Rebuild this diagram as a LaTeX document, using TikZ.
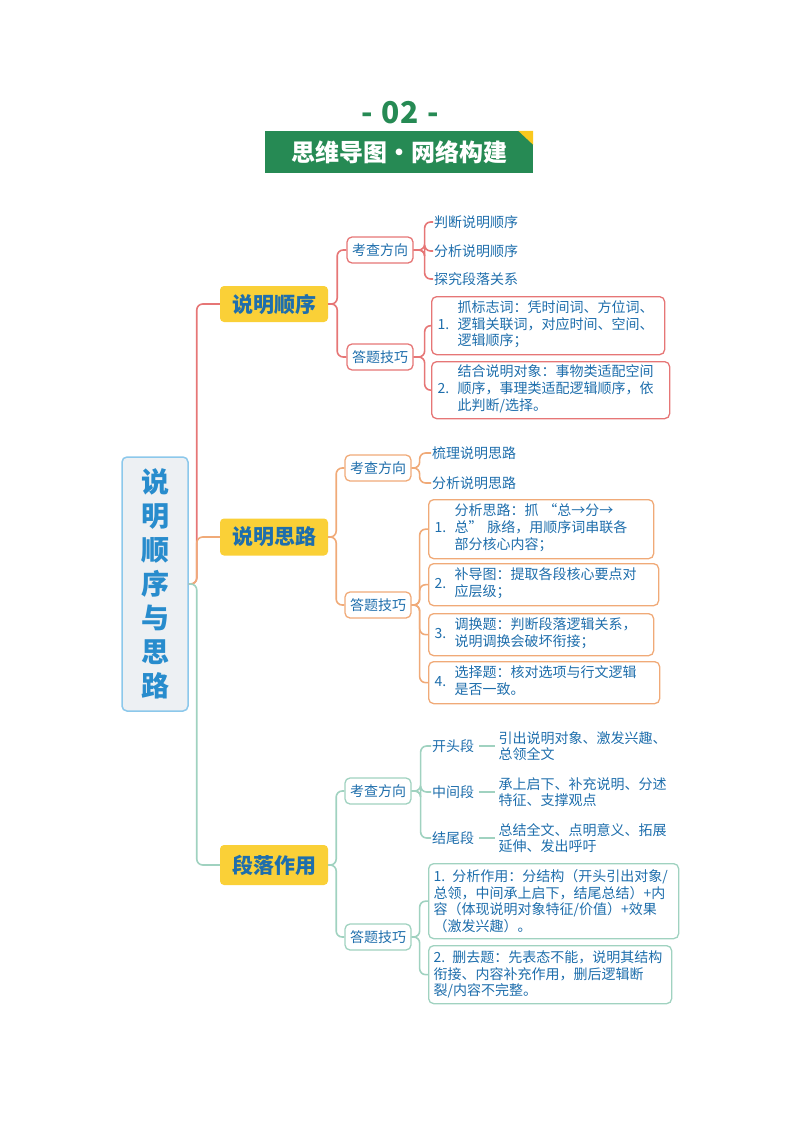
\documentclass[tikz,border=0pt]{standalone}
\usepackage{fontspec}
\setmainfont{Noto Sans CJK SC}
\usepackage{tikz}
\usetikzlibrary{positioning}
\definecolor{inkblue}{RGB}{30,110,172}
\definecolor{rootblue}{RGB}{40,140,205}
\definecolor{redline}{RGB}{230,118,118}
\definecolor{orangeline}{RGB}{240,170,120}
\definecolor{greenline}{RGB}{160,210,192}
\definecolor{titlegreen}{RGB}{38,138,84}
\definecolor{mainyellow}{RGB}{250,208,55}
\definecolor{rootfill}{RGB}{237,240,243}
\definecolor{rootedge}{RGB}{140,200,235}
\definecolor{cornergold}{RGB}{250,200,30}

\newcommand{\numline}[2]{\makebox[20pt][l]{#1}\begin{tabular}[c]{@{}l@{}}#2\end{tabular}}

\begin{document}
\begin{tikzpicture}[
  x=1pt, y=-1pt,
  font=\fontsize{14}{16.5}\selectfont,
  root/.style={draw=rootedge, fill=rootfill, line width=1.5pt, rounded corners=5pt, minimum width=66pt, minimum height=254pt, align=center, text=rootblue, font=\fontsize{28}{34}\selectfont\bfseries},
  topic/.style={fill=mainyellow, rounded corners=4pt, minimum width=108pt, minimum height=36pt, inner sep=0pt, text=inkblue, font=\fontsize{21}{24}\selectfont\bfseries},
  ask/.style={draw=#1, fill=white, line width=1.3pt, rounded corners=5pt, minimum width=66pt, minimum height=26pt, inner sep=0pt, text=inkblue},
  leaf/.style={anchor=west, inner sep=1pt, text=inkblue, align=left},
  card/.style={draw=#1, fill=white, line width=1.3pt, rounded corners=5pt, anchor=north west, inner xsep=6pt, inner ysep=0pt, align=left, text=inkblue},
  branch/.style={draw=#1, line width=1.6pt, rounded corners=6pt}
]
\useasboundingbox (0,0) rectangle (800,1132);

% heading
\node[text=titlegreen, font=\fontsize{30}{32}\selectfont\bfseries] (num) at (400,113) {-\hspace{9pt}02\hspace{9pt}-};
\node[fill=titlegreen, minimum width=268pt, minimum height=42pt, inner sep=0pt, text=white, font=\fontsize{24}{26}\selectfont\bfseries] (title) at (399,152) {思维导图・网络构建};
\fill[cornergold] (title.north east) -- ++(-15,0) -- ++(15,14) -- cycle;

% root and topics
\node[root] (root) at (155,584) {说\\明\\顺\\序\\与\\思\\路};
\node[topic] (seq) at (274,304) {说明顺序};
\node[topic, minimum height=37pt] (flow) at (274,537) {说明思路};
\node[topic, minimum height=40pt] (para) at (274,865) {段落作用};

\draw[branch=redline] (root.east) -- ++(8,0) |- (seq.west);
\draw[branch=orangeline] (root.east) -- ++(8,0) |- (flow.west);
\draw[branch=greenline] (root.east) -- ++(8,0) |- (para.west);

% 说明顺序
\node[ask=redline] (seqq) at (380,250) {考查方向};
\node[ask=redline] (seqs) at (380,357) {答题技巧};
\node[leaf] (seqq1) at (433,222) {判断说明顺序};
\node[leaf] (seqq2) at (433,251) {分析说明顺序};
\node[leaf] (seqq3) at (433,279) {探究段落关系};
\node[card=redline, text width=221pt, minimum height=58pt] (seqs1) at (431,296) {\numline{1.}{抓标志词：凭时间词、方位词、\\逻辑关联词，对应时间、空间、\\逻辑顺序；}};
\node[card=redline, text width=226pt, minimum height=57pt] (seqs2) at (431,361) {\numline{2.}{结合说明对象：事物类适配空间\\顺序，事理类适配逻辑顺序，依\\此判断/选择。}};

\draw[branch=redline] (seq.east) -- ++(9,0) |- (seqq.west);
\draw[branch=redline] (seq.east) -- ++(9,0) |- (seqs.west);
\draw[branch=redline] (seqq.east) -- ++(11,0) |- (seqq1.west);
\draw[branch=redline] (seqq.east) -- ++(11,0) |- (seqq2.west);
\draw[branch=redline] (seqq.east) -- ++(11,0) |- (seqq3.west);
\draw[branch=redline] (seqs.east) -- ++(11,0) |- (seqs1.west);
\draw[branch=redline] (seqs.east) -- ++(11,0) |- (seqs2.west);

% 说明思路
\node[ask=orangeline] (flowq) at (378,468) {考查方向};
\node[ask=orangeline] (flows) at (378,605) {答题技巧};
\node[leaf] (flowq1) at (431,453) {梳理说明思路};
\node[leaf] (flowq2) at (431,483) {分析说明思路};
\node[card=orangeline, text width=213pt, minimum height=59pt] (flows1) at (428,499) {\numline{1.}{分析思路：抓 “总→分→\\总” 脉络，用顺序词串联各\\部分核心内容；}};
\node[card=orangeline, text width=218pt, minimum height=42pt] (flows2) at (428,563) {\numline{2.}{补导图：提取各段核心要点对\\应层级；}};
\node[card=orangeline, text width=213pt, minimum height=42pt] (flows3) at (428,613) {\numline{3.}{调换题：判断段落逻辑关系，\\说明调换会破坏衔接；}};
\node[card=orangeline, text width=219pt, minimum height=42pt] (flows4) at (428,661) {\numline{4.}{选择题：核对选项与行文逻辑\\是否一致。}};

\draw[branch=orangeline] (flow.east) -- ++(8,0) |- (flowq.west);
\draw[branch=orangeline] (flow.east) -- ++(8,0) |- (flows.west);
\draw[branch=orangeline] (flowq.east) -- ++(8,0) |- (flowq1.west);
\draw[branch=orangeline] (flowq.east) -- ++(8,0) |- (flowq2.west);
\draw[branch=orangeline] (flows.east) -- ++(8,0) |- (flows1.west);
\draw[branch=orangeline] (flows.east) -- ++(8,0) |- (flows2.west);
\draw[branch=orangeline] (flows.east) -- ++(8,0) |- (flows3.west);
\draw[branch=orangeline] (flows.east) -- ++(8,0) |- (flows4.west);

% 段落作用
\node[ask=greenline] (paraq) at (378,791) {考查方向};
\node[ask=greenline] (paras) at (378,937) {答题技巧};
\node[leaf] (paraq1) at (431,746) {开头段};
\node[leaf] (paraq2) at (431,792) {中间段};
\node[leaf] (paraq3) at (431,838) {结尾段};
\node[leaf, right=22pt of paraq1] (paraq1d) {引出说明对象、激发兴趣、\\总领全文};
\node[leaf, right=22pt of paraq2] (paraq2d) {承上启下、补充说明、分述\\特征、支撑观点};
\node[leaf, right=22pt of paraq3] (paraq3d) {总结全文、点明意义、拓展\\延伸、发出呼吁};
\node[card=greenline, text width=240pt, minimum height=75pt, inner xsep=5pt] (paras1) at (428,863) {1. 分析作用：分结构（开头引出对象/\\总领，中间承上启下，结尾总结）+内\\容（体现说明对象特征/价值）+效果\\（激发兴趣）。};
\node[card=greenline, text width=233pt, minimum height=58pt, inner xsep=5pt] (paras2) at (428,945) {2. 删去题：先表态不能，说明其结构\\衔接、内容补充作用，删后逻辑断\\裂/内容不完整。};

\draw[branch=greenline] (para.east) -- ++(8,0) |- (paraq.west);
\draw[branch=greenline] (para.east) -- ++(8,0) |- (paras.west);
\draw[branch=greenline] (paraq.east) -- ++(9,0) |- (paraq1.west);
\draw[branch=greenline] (paraq.east) -- ++(9,0) |- (paraq2.west);
\draw[branch=greenline] (paraq.east) -- ++(9,0) |- (paraq3.west);
\draw[greenline, line width=1.2pt, shorten <=4pt, shorten >=2pt] (paraq1) -- (paraq1d);
\draw[greenline, line width=1.2pt, shorten <=4pt, shorten >=2pt] (paraq2) -- (paraq2d);
\draw[greenline, line width=1.2pt, shorten <=4pt, shorten >=2pt] (paraq3) -- (paraq3d);
\draw[branch=greenline] (paras.east) -- ++(8,0) |- (paras1.west);
\draw[branch=greenline] (paras.east) -- ++(8,0) |- (paras2.west);
\end{tikzpicture}
\end{document}
